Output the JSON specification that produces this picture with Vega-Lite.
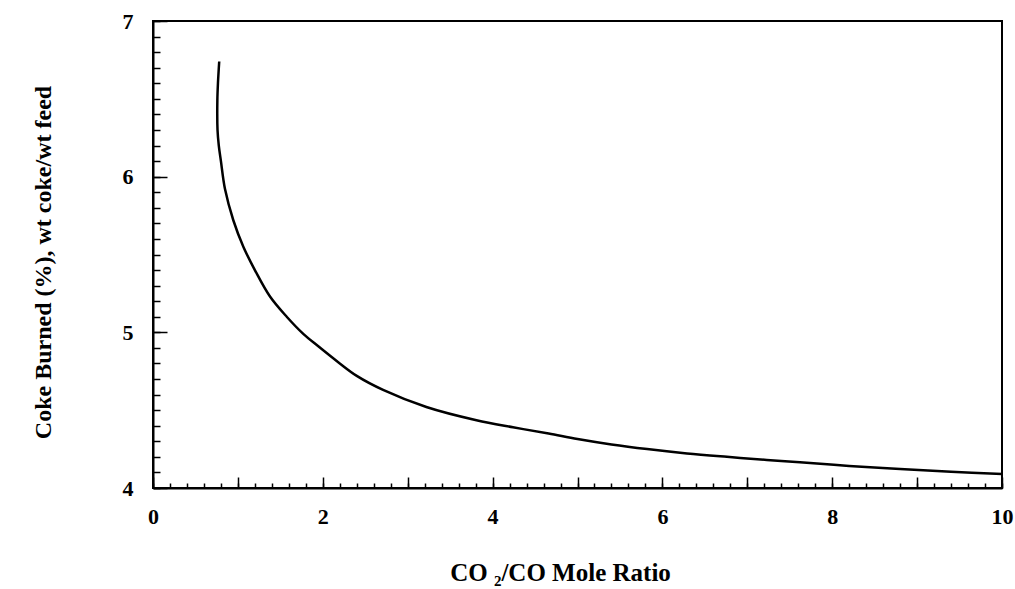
{
  "$schema": "https://vega.github.io/schema/vega-lite/v6.json",
  "width": 849,
  "height": 467,
  "autosize": "none",
  "padding": {"left": 153, "top": 21, "right": 13, "bottom": 101},
  "background": "white",
  "config": {
    "view": {"stroke": "black", "strokeWidth": 2},
    "axis": {
      "labelFont": "Liberation Serif",
      "labelFontWeight": "bold",
      "labelFontSize": 22,
      "labelColor": "black",
      "titleFont": "Liberation Serif",
      "titleFontWeight": "bold",
      "titleColor": "black",
      "domainColor": "black",
      "domainWidth": 2,
      "tickColor": "black",
      "tickWidth": 1.5,
      "grid": false
    }
  },
  "data": {
    "values": [
      {"x": 0.78, "y": 6.74},
      {"x": 0.765, "y": 6.6},
      {"x": 0.758, "y": 6.49},
      {"x": 0.76, "y": 6.3},
      {"x": 0.775, "y": 6.2},
      {"x": 0.8, "y": 6.1},
      {"x": 0.848, "y": 5.92},
      {"x": 0.946, "y": 5.72},
      {"x": 1.064, "y": 5.55},
      {"x": 1.2, "y": 5.4},
      {"x": 1.378, "y": 5.23},
      {"x": 1.575, "y": 5.1},
      {"x": 1.77, "y": 4.99},
      {"x": 1.947, "y": 4.91},
      {"x": 2.2, "y": 4.8},
      {"x": 2.4, "y": 4.72},
      {"x": 2.71, "y": 4.63},
      {"x": 3.22, "y": 4.52},
      {"x": 3.81, "y": 4.435},
      {"x": 4.24, "y": 4.39},
      {"x": 4.66, "y": 4.35},
      {"x": 5.0, "y": 4.315},
      {"x": 5.4, "y": 4.28},
      {"x": 5.82, "y": 4.25},
      {"x": 6.29, "y": 4.222},
      {"x": 6.76, "y": 4.2},
      {"x": 7.23, "y": 4.18},
      {"x": 7.62, "y": 4.165},
      {"x": 8.2, "y": 4.142},
      {"x": 8.8, "y": 4.122},
      {"x": 9.4, "y": 4.105},
      {"x": 10.0, "y": 4.09}
    ]
  },
  "resolve": {"axis": {"x": "independent", "y": "independent"}},
  "layer": [
    {
      "mark": {"type": "line", "color": "black", "strokeWidth": 2.5, "interpolate": "catmull-rom"},
      "encoding": {
        "x": {
          "field": "x", "type": "quantitative",
          "scale": {"domain": [0, 10], "nice": false, "zero": false},
          "axis": {
            "orient": "bottom",
            "title": "CO ₂/CO Mole Ratio",
            "titleFontSize": 25,
            "titleX": 407,
            "values": [0, 1, 2, 3, 4, 5, 6, 7, 8, 9, 10],
            "labelExpr": "datum.value % 2 == 0 ? datum.label : ''",
            "tickSize": -11,
            "labelPadding": 29,
            "labelFlush": false,
            "titlePadding": 33
          }
        },
        "y": {
          "field": "y", "type": "quantitative",
          "scale": {"domain": [4, 7], "nice": false, "zero": false},
          "axis": {
            "orient": "left",
            "title": "Coke Burned (%), wt coke/wt feed",
            "titleFontSize": 24,
            "titleY": 241,
            "values": [4, 5, 6, 7],
            "tickSize": -14,
            "labelPadding": 34,
            "labelFlush": false,
            "titlePadding": 67
          }
        },
        "order": {"field": "y", "sort": "descending"}
      }
    },
    {
      "mark": {"type": "line", "strokeOpacity": 0},
      "encoding": {
        "x": {
          "field": "x", "type": "quantitative",
          "axis": {
            "orient": "bottom",
            "title": null,
            "labels": false,
            "domain": false,
            "tickSize": -5,
            "values": [0, 0.2, 0.4, 0.6, 0.8, 1, 1.2, 1.4, 1.6, 1.8, 2, 2.2, 2.4, 2.6, 2.8, 3, 3.2, 3.4, 3.6, 3.8, 4, 4.2, 4.4, 4.6, 4.8, 5, 5.2, 5.4, 5.6, 5.8, 6, 6.2, 6.4, 6.6, 6.8, 7, 7.2, 7.4, 7.6, 7.8, 8, 8.2, 8.4, 8.6, 8.8, 9, 9.2, 9.4, 9.6, 9.8, 10]
          }
        },
        "y": {
          "field": "y", "type": "quantitative",
          "axis": {
            "orient": "left",
            "title": null,
            "labels": false,
            "domain": false,
            "tickSize": -7,
            "values": [4, 4.1, 4.2, 4.3, 4.4, 4.5, 4.6, 4.7, 4.8, 4.9, 5, 5.1, 5.2, 5.3, 5.4, 5.5, 5.6, 5.7, 5.8, 5.9, 6, 6.1, 6.2, 6.3, 6.4, 6.5, 6.6, 6.7, 6.8, 6.9, 7]
          }
        },
        "order": {"field": "y", "sort": "descending"}
      }
    }
  ]
}
